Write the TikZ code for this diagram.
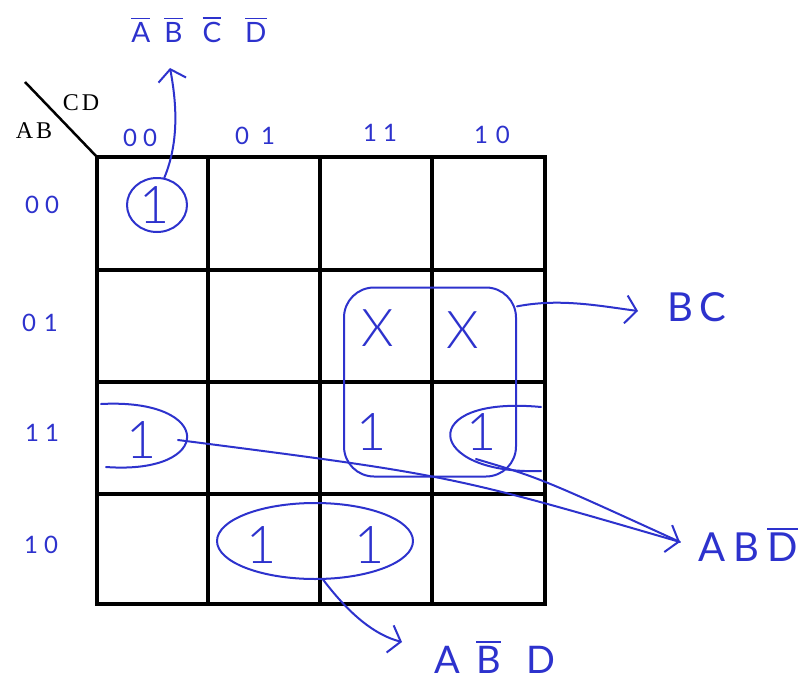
\documentclass[tikz,border=0pt]{standalone}
\usepackage{fontspec}
\usetikzlibrary{arrows.meta,shapes.geometric}
\newfontfamily\hand{Lato Light}
\newfontfamily\handr{Lato}
\newfontfamily\serifl{Liberation Serif}
\definecolor{pen}{RGB}{45,50,205}
\newcommand\ovl[1]{\vbox{\hrule height 1.8pt\kern 3pt\hbox{#1}}}
\begin{document}
\begin{tikzpicture}[x=1pt,y=-1pt,
  gridline/.style={line width=3.5pt, black},
  pen/.style={draw=pen, line width=2pt, line cap=round, line join=round},
  arr/.style={pen, -{Straight Barb[length=11pt,width=28pt]}},
  hdr/.style={text=pen, font=\handr\fontsize{24}{28}\selectfont, inner sep=0pt},
  cellv/.style={text=pen, font=\hand\fontsize{52}{60}\selectfont, inner sep=0pt},
  lbl/.style={text=pen, font=\handr\fontsize{40}{48}\selectfont, inner sep=0pt},
  blk/.style={text=black, font=\serifl\fontsize{24}{28}\selectfont, inner sep=0pt}
]
\useasboundingbox (0,0) rectangle (805,682);
\fill[white] (0,0) rectangle (805,682);

% grid
\draw[gridline] (97,157) rectangle (545,604);
\foreach \x in {208,320,432} \draw[gridline] (\x,157) -- (\x,604);
\foreach \y in {270,382,494} \draw[gridline] (97,\y) -- (545,\y);
\draw[line width=2.5pt] (25,82) -- (97,157);

% black labels
\node[blk] (cd) at (81,103) {C\kern3pt D};
\node[blk] (ab) at (34,131) {A\kern3pt B};

% column headers
\node[hdr] (h00) at (140,138) {0\kern6pt 0};
\node[hdr] (h01) at (255,136) {0\kern12pt 1};
\node[hdr] (h11) at (380,133) {1\kern6pt 1};
\node[hdr] (h10) at (492,135) {1\kern8pt 0};
% row headers
\node[hdr] (r00) at (42,205) {0\kern6pt 0};
\node[hdr] (r01) at (40,323) {0\kern8pt 1};
\node[hdr] (r11) at (42,433) {1\kern6pt 1};
\node[hdr] (r10) at (41,545) {1\kern6pt 0};

% cell values
\node[cellv] (n1) at (155,205) {1};
\node[cellv] (x1) at (378,328) {X};
\node[cellv] (x2) at (463,330) {X};
\node[cellv] (n2) at (142,440) {1};
\node[cellv] (n3) at (372,432) {1};
\node[cellv] (n4) at (482,432) {1};
\node[cellv] (n5) at (262,545) {1};
\node[cellv] (n6) at (370,545) {1};

% result labels
\node[text=pen, font=\handr\fontsize{28}{32}\selectfont, inner sep=0pt] (ltop) at (199,30)
  {\ovl{A}\kern14pt\ovl{B}\kern20pt\ovl{C}\kern24pt\ovl{D}};
\node[lbl] (lbc) at (697,307) {B\kern6pt C};
\node[lbl] (labdn) at (748,545) {A\kern8pt B\kern8pt\ovl{D}};
\node[text=pen, font=\handr\fontsize{38}{44}\selectfont, inner sep=0pt] (labd) at (495,657)
  {A\kern16pt\ovl{B}\kern26pt D};

% loops
\node[pen, ellipse, minimum width=60, minimum height=54] (c1) at (157,205) {};
\node[pen, rounded corners=30pt, minimum width=172, minimum height=189] (bcloop) at (430,382) {};
\node[pen, ellipse, minimum width=196, minimum height=76] (e56) at (315,541) {};
\draw[pen] (101,404) .. controls (215,398) and (215,475) .. (106,467);
\draw[pen] (541,407) .. controls (415,395) and (425,475) .. (541,471);

% connectors
\coordinate (toptip) at (170,68);
\coordinate (lstart) at (178,440);
\coordinate (rstart) at (476,459);
\coordinate (abdtip) at (680,542);
\coordinate (bctip) at (638,311);
\coordinate (abtip) at (402,642);

\draw[arr] (c1.75) .. controls (180,140) and (176,100) .. (toptip);
\draw[arr] (bcloop.41) .. controls (560,298) and (600,306) .. (bctip);
\draw[arr] (lstart) .. controls (450,475) .. (abdtip);
\draw[pen] (rstart) .. controls (540,478) .. (abdtip);
\draw[arr] (e56.-78) .. controls (350,615) and (375,635) .. (abtip);
\end{tikzpicture}
\end{document}
